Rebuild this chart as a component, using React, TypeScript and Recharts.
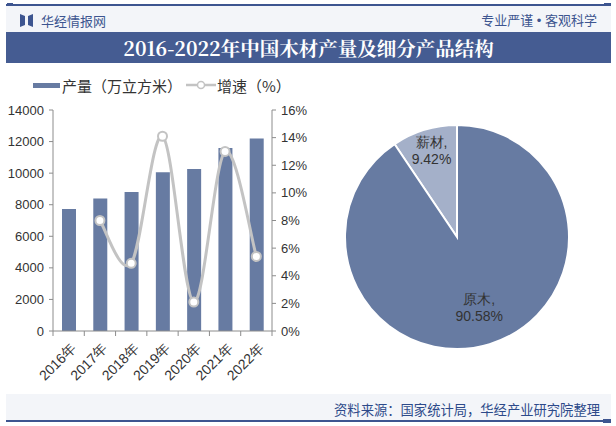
import React from "react";
import {
  ComposedChart, Bar, Line, XAxis, YAxis, PieChart, Pie, Cell,
} from "recharts";

const years = ["2016年", "2017年", "2018年", "2019年", "2020年", "2021年", "2022年"];
const output = [7730, 8400, 8810, 10050, 10260, 11590, 12190];
const growth: (number | null)[] = [null, 8.0, 4.9, 14.1, 2.1, 13.0, 5.4];
const leftTicks = [0, 2000, 4000, 6000, 8000, 10000, 12000, 14000];
const rightTicks = [0, 2, 4, 6, 8, 10, 12, 14, 16];

const pieNames = ["薪材", "原木"];
const pieValues = [9.42, 90.58];

const BLUE = "#3d5590";
const BAR = "#677ba2";
const PIE_MAIN = "#677ba2";
const PIE_MINOR = "#a4b0c9";
const LINE = "#c3c3c3";
const FONT = "'Liberation Sans', Arial, sans-serif";
const CJK = "'Noto Sans CJK SC', 'Noto Sans', sans-serif";

const barData = years.map((y, i) => ({ year: y, output: output[i], growth: growth[i] }));
const pieData = pieNames.map((n, i) => ({ name: n, value: pieValues[i] }));

// Excel-like smooth curve (Catmull-Rom style Bezier through the points)
const smoothCurve = (context: any) => {
  let pts: [number, number][] = [];
  return {
    areaStart() {},
    areaEnd() {},
    lineStart() { pts = []; },
    point(x: number, y: number) { pts.push([+x, +y]); },
    lineEnd() {
      const n = pts.length;
      if (!n) return;
      context.moveTo(pts[0][0], pts[0][1]);
      for (let i = 0; i < n - 1; i++) {
        const p0 = pts[i - 1] || pts[i];
        const p1 = pts[i];
        const p2 = pts[i + 1];
        const p3 = pts[i + 2] || pts[i + 1];
        const c1x = p1[0] + (p2[0] - p0[0]) / 6;
        const c1y = p1[1] + (p2[1] - p0[1]) / 6;
        const c2x = p2[0] - (p3[0] - p1[0]) / 6;
        const c2y = p2[1] - (p3[1] - p1[1]) / 6;
        context.bezierCurveTo(c1x, c1y, c2x, c2y, p2[0], p2[1]);
      }
    },
  };
};

const XTick = (props: any) => {
  const { x, y, payload, index } = props;
  const bw = 219 / years.length;
  return (
    <g>
      <line x1={x - bw / 2} x2={x - bw / 2} y1={y} y2={y + 5} stroke="#8c8c8c" />
      {index === years.length - 1 && (
        <line x1={x + bw / 2} x2={x + bw / 2} y1={y} y2={y + 5} stroke="#8c8c8c" />
      )}
      <text
        x={x + 1}
        y={y + 11}
        transform={`rotate(-45, ${x + 1}, ${y + 11})`}
        textAnchor="end"
        dominantBaseline="hanging"
        fontSize={14}
        fill="#333"
        fontFamily={FONT}
      >
        {payload.value}
      </text>
    </g>
  );
};

const renderPieLabel = (props: any) => {
  const { cx, cy, midAngle, outerRadius, name, value } = props;
  const RAD = Math.PI / 180;
  const f = name === "薪材" ? 0.78 : 0.68;
  const r = outerRadius * f;
  const x = cx + r * Math.cos(-midAngle * RAD);
  const y = cy + r * Math.sin(-midAngle * RAD);
  return (
    <text x={x} y={y} textAnchor="middle" fill="#333" fontSize={14} fontFamily={FONT}>
      <tspan x={x} dy={-6}>{name},</tspan>
      <tspan x={x} dy={17}>{value.toFixed(2)}%</tspan>
    </text>
  );
};

export default function App() {
  return (
    <div style={{ position: "absolute", left: 0, top: 0, width: 616, height: 426, background: "#fff", overflow: "hidden", fontFamily: FONT }}>
      {/* header */}
      <div style={{ position: "absolute", left: 6, top: 5, width: 605, height: 27, background: "#f3f5f9" }} />
      <div style={{ position: "absolute", left: 6, top: 4, width: 605, height: 1.5, background: BLUE }} />
      <div style={{ position: "absolute", left: 7, top: 3, width: 6, height: 3, background: BLUE }} />
      <div style={{ position: "absolute", left: 604, top: 3, width: 7, height: 3, background: BLUE }} />
      <div style={{ position: "absolute", left: 20, top: 11, display: "flex", alignItems: "center" }}>
        <svg width={13} height={13} style={{ marginRight: 8 }}>
          <path d="M0 0 L5 2 L5 11 L0 13 Z" fill={BLUE} />
          <path d="M13 0 L8 2 L8 11 L13 13 Z" fill={BLUE} />
        </svg>
        <span style={{ fontSize: 13, color: BLUE, fontFamily: CJK }}>华经情报网</span>
      </div>
      <div style={{ position: "absolute", right: 19, top: 10, fontSize: 13, color: BLUE, fontFamily: CJK }}>
        专业严谨<span style={{ fontFamily: FONT }}> • </span>客观科学
      </div>
      <div style={{ position: "absolute", left: 6, top: 32, width: 605, height: 31, background: "#455c92", display: "flex", alignItems: "center", justifyContent: "center" }}>
        <span style={{ color: "#fff", fontSize: 19.5, fontWeight: "bold", fontFamily: "'Noto Serif CJK SC', 'DejaVu Serif', serif" }}>
          2016-2022年中国木材产量及细分产品结构
        </span>
      </div>

      {/* legend */}
      <div style={{ position: "absolute", left: 33, top: 75, display: "flex", alignItems: "center", fontSize: 15, color: "#333", fontFamily: CJK, height: 20 }}>
        <svg width={27} height={14} style={{ marginRight: 2 }}>
          <rect x={0} y={5} width={27} height={5} fill={BAR} />
        </svg>
        <span style={{ marginRight: 4 }}>产量（万立方米）</span>
        <svg width={30} height={14} style={{ marginRight: 1 }}>
          <line x1={0} x2={30} y1={7} y2={7} stroke={LINE} strokeWidth={2.5} />
          <circle cx={15} cy={7} r={3.5} fill="#fff" stroke={LINE} strokeWidth={1.5} />
        </svg>
        <span>增速（%）</span>
      </div>

      {/* footer */}
      <div style={{ position: "absolute", left: 6, top: 394, width: 605, height: 26, background: "#f3f5f9" }} />
      <div style={{ position: "absolute", left: 6, top: 420, width: 605, height: 1.5, background: BLUE }} />
      <div style={{ position: "absolute", left: 603, top: 419, width: 8, height: 4, background: BLUE }} />
      <div style={{ position: "absolute", right: 16, top: 400, fontSize: 13.3, color: "#2d4a8a", fontFamily: CJK }}>
        资料来源：国家统计局，华经产业研究院整理
      </div>

      {/* bar + line chart */}
      <div style={{ position: "absolute", left: 0, top: 0 }}>
        <ComposedChart width={310} height={400} data={barData} margin={{ top: 110, right: 0, bottom: 9, left: 0 }}>
          <XAxis
            dataKey="year"
            height={60}
            stroke="#8c8c8c"
            tickLine={false}
            tickSize={0}
            tickMargin={0}
            interval={0}
            tick={<XTick />}
          />
          <YAxis
            yAxisId="left"
            width={53}
            domain={[0, 14000]}
            ticks={leftTicks}
            stroke="#8c8c8c"
            tickSize={4}
            tick={{ fill: "#333", fontSize: 13, fontFamily: FONT }}
            tickMargin={5}
          />
          <YAxis
            yAxisId="right"
            orientation="right"
            width={38}
            domain={[0, 16]}
            ticks={rightTicks}
            tickFormatter={(v: number) => `${v}%`}
            stroke="#8c8c8c"
            tickSize={4}
            tick={{ fill: "#333", fontSize: 13, fontFamily: FONT }}
            tickMargin={5}
          />
          <Bar yAxisId="left" dataKey="output" fill={BAR} barSize={14} isAnimationActive={false} />
          <Line
            yAxisId="right"
            dataKey="growth"
            type={smoothCurve as any}
            stroke={LINE}
            strokeWidth={3}
            dot={{ r: 4.5, fill: "#fff", stroke: LINE, strokeWidth: 2 }}
            isAnimationActive={false}
            connectNulls={false}
          />
        </ComposedChart>
      </div>

      {/* pie chart */}
      <div style={{ position: "absolute", left: 335, top: 115 }}>
        <PieChart width={244} height={244} margin={{ top: 0, right: 0, bottom: 0, left: 0 }}>
          <Pie
            data={pieData}
            dataKey="value"
            nameKey="name"
            cx={122}
            cy={122}
            outerRadius={112}
            startAngle={90}
            endAngle={450}
            stroke="#fff"
            strokeWidth={2}
            label={renderPieLabel}
            labelLine={false}
            isAnimationActive={false}
          >
            <Cell fill={PIE_MINOR} />
            <Cell fill={PIE_MAIN} />
          </Pie>
        </PieChart>
      </div>
    </div>
  );
}
